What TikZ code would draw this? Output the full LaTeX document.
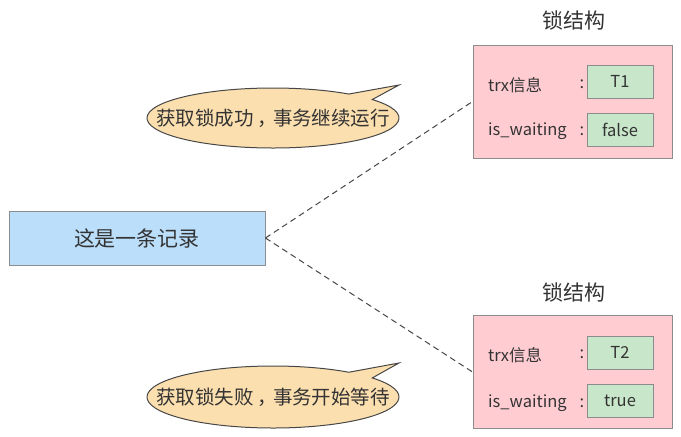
\documentclass[tikz,border=0pt]{standalone}
\usepackage{fontspec}
\setmainfont{Noto Sans CJK SC}
\usetikzlibrary{calc}
\definecolor{txt}{HTML}{333333}
\definecolor{recfill}{HTML}{BBDEFA}
\definecolor{pinkfill}{HTML}{FFCCD2}
\definecolor{greenfill}{HTML}{C8E6C9}
\definecolor{peach}{HTML}{FCDFAF}
\definecolor{edge}{HTML}{8C8C8C}
\newcommand{\fwcomma}{\kern4pt，\kern-4pt}
\begin{document}
\begin{tikzpicture}[x=1pt,y=-1pt,
  every node/.style={text=txt},
  recbox/.style={draw=edge,fill=recfill,line width=0.9pt,minimum width=256,minimum height=54,inner sep=0,font=\fontsize{21}{24}\selectfont},
  lockbox/.style={draw=edge,fill=pinkfill,line width=0.9pt,minimum width=199,minimum height=113,inner sep=0},
  valbox/.style={draw=edge,fill=greenfill,line width=0.9pt,minimum width=66,minimum height=33,inner sep=0,font=\fontsize{16.5}{19}\selectfont},
  lbl/.style={anchor=west,inner sep=0,font=\fontsize{16.5}{19}\selectfont},
  colon/.style={inner sep=0,font=\fontsize{16.5}{19}\selectfont},
  title/.style={font=\fontsize{21}{24}\selectfont,inner sep=0},
  bubble/.style={draw=txt!90,fill=peach,line width=1pt},
  bubtext/.style={inner sep=0,font=\fontsize{19.5}{22}\selectfont},
  link/.style={dash pattern=on 6pt off 4pt,draw=txt!90,line width=1pt}]
\useasboundingbox (0,0) rectangle (681,437);
\node[recbox] (rec) at (137,238) {这是一条记录};
% top lock
\node[title] (t1) at (574,20) {锁结构};
\node[lockbox] (l1) at (572.5,101.5) {};
\node[valbox] (v1a) at (620,81.5) {T1};
\node[valbox] (v1b) at (620,130) {false};
\node[lbl] (k1a) at (488,85) {trx信息};
\node[lbl] (k1b) at (488,131) {is\_waiting};
\node[colon] (c1a) at (582,84) {:};
\node[colon] (c1b) at (582,131) {:};
% bottom lock
\node[title] (t2) at (574,292) {锁结构};
\node[lockbox] (l2) at (572.5,372) {};
\node[valbox] (v2a) at (620,352.5) {T2};
\node[valbox] (v2b) at (620,401) {true};
\node[lbl] (k2a) at (488,355) {trx信息};
\node[lbl] (k2b) at (488,403) {is\_waiting};
\node[colon] (c2a) at (582,354) {:};
\node[colon] (c2b) at (582,403) {:};
% links
\draw[link] (rec.east) -- (l1.west);
\draw[link] (rec.east) -- (l2.west);
% bubbles
\coordinate (bc1) at (273,118);
\coordinate (tip1) at (399,85);
\coordinate (bc2) at (273,397);
\coordinate (tip2) at (399,363);
\draw[bubble] ($(bc1)+(-53:126 and 30)$) -- (tip1) -- ($(bc1)+(-38:126 and 30)$)
  arc[start angle=-38,end angle=307,x radius=126,y radius=30] -- cycle;
\draw[bubble] ($(bc2)+(-53:126 and 31)$) -- (tip2) -- ($(bc2)+(-38:126 and 31)$)
  arc[start angle=-38,end angle=307,x radius=126,y radius=31] -- cycle;
\node[bubtext] (b1) at (273,118) {获取锁成功\fwcomma 事务继续运行};
\node[bubtext] (b2) at (273,397) {获取锁失败\fwcomma 事务开始等待};
\end{tikzpicture}
\end{document}
